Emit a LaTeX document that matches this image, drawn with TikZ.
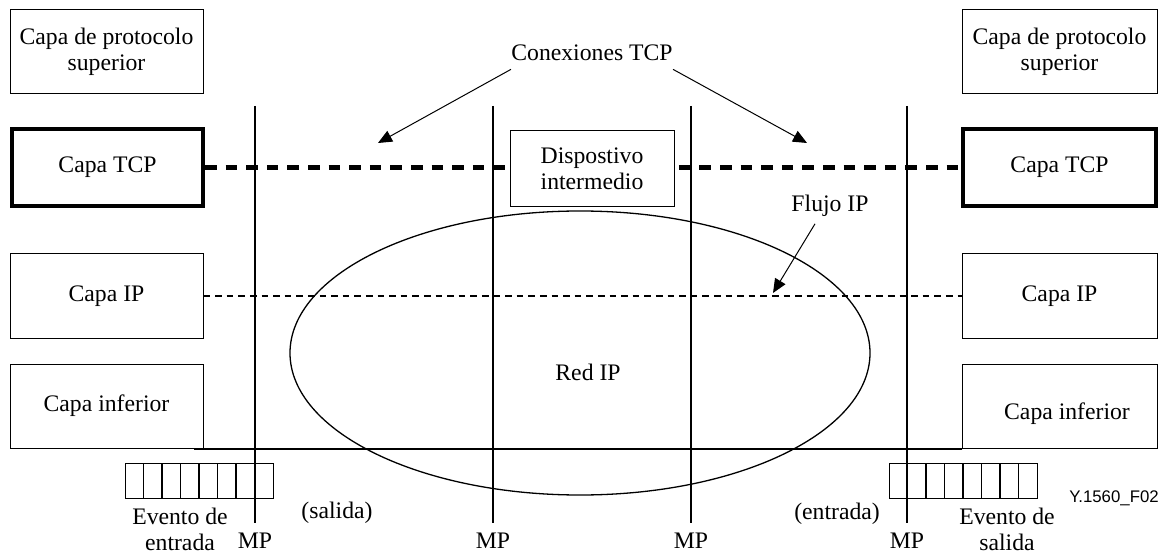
\documentclass[tikz,border=0pt]{standalone}
\usepackage{fontspec}
\setmainfont{Liberation Serif}
\newfontfamily\figsans{Liberation Sans}
\usetikzlibrary{arrows.meta}
\begin{document}
\begin{tikzpicture}[x=0.5pt,y=-0.5pt,
  every node/.style={font=\fontsize{11.85pt}{13pt}\selectfont},
  layer/.style={draw, line width=0.5pt, minimum width=96.5pt, minimum height=42pt, inner sep=0pt, align=center},
  tcplayer/.style={draw, line width=2pt, minimum height=38.5pt, inner sep=0pt},
  arr/.style={line width=0.5pt, -{Triangle[length=7pt,width=6pt]}},
  mplabel/.style={anchor=north, inner xsep=0pt, inner ysep=5pt},
  queue/.style={draw, line width=0.5pt, minimum width=74pt, minimum height=17.5pt, inner sep=0pt,
    path picture={\foreach \i in {1,...,7}{
      \draw[line width=0.8pt] ([xshift=\i*9.25pt]path picture bounding box.south west)
        -- ([xshift=\i*9.25pt]path picture bounding box.north west);}}},
  tcpconn/.style={line width=2.5pt, dash pattern=on 5.8pt off 4.5pt},
  ipflow/.style={line width=1pt, dash pattern=on 3.3pt off 2.5pt}
]
\useasboundingbox (0,0) rectangle (1165,555);

% protocol stacks at both ends
\node[layer] (supL) at (106.5,52) {Capa de protocolo\\superior};
\node[layer, minimum width=97.5pt] (supR) at (1059.5,52) {Capa de protocolo\\superior};
\node[tcplayer, minimum width=95.5pt] (tcpL) at (107.5,167.5) {Capa TCP};
\node[tcplayer, minimum width=96.5pt] (tcpR) at (1059.5,167.5) {Capa TCP};
\node[layer] (ipL) at (106.5,296) {Capa IP};
\node[layer, minimum width=97.5pt] (ipR) at (1059.5,296) {Capa IP};
\node[layer] (infL) at (106.5,406) {Capa inferior};
\node[layer, minimum width=97.5pt] (infR) at (1059.5,406) {};
\node (infRtext) at (1067,414) {Capa inferior};

% IP network
\draw[line width=0.65pt] (580,353) ellipse [x radius=145pt, y radius=71pt];
\node (red) at (588,372) {Red IP};

% TCP connection and IP flow
\draw[tcpconn] (tcpL.east) -- (tcpR.west);
\draw[ipflow] (ipL.east) -- (ipR.west);
\draw[line width=1pt] ([xshift=-5pt]infL.south east) -- (infR.south west);

% intermediate device
\node[layer, fill=white, minimum width=82pt, minimum height=38pt] (mid) at (592,169) {Dispostivo\\intermedio};

% measurement points
\foreach \n/\x in {a/255,b/493,c/691,d/907} {
  \coordinate (top\n) at (\x,106);
  \node[mplabel] (mp\n) at (\x,523) {MP};
  \draw[line width=1pt] (top\n) -- (mp\n.north);
}

% callouts
\node[inner xsep=0pt, inner ysep=4pt] (conn) at (592,53) {Conexiones TCP};
\coordinate (tipL) at (378,143);
\coordinate (tipR) at (807,143);
\draw[arr] (conn.south west) -- (tipL);
\draw[arr] (conn.south east) -- (tipR);

\node (flujo) at (830,206) {Flujo IP};
\coordinate (tipF) at (773,293);
\draw[arr] ([xshift=-7.5pt]flujo.south) -- (tipF);

% packet queues
\node[queue] (qL) at (199,480.5) {};
\node[queue] (qR) at (963,480.5) {};

\node[align=center] (evIn) at (180,529) {Evento de\\entrada};
\node[align=center] (evOut) at (1007,529) {Evento de\\salida};
\node (sal) at (337,513) {(salida)};
\node (ent) at (837,514) {(entrada)};

\node[font=\figsans\fontsize{8.4pt}{10pt}\selectfont] (fig) at (1114,498) {Y.1560\_F02};
\end{tikzpicture}
\end{document}
